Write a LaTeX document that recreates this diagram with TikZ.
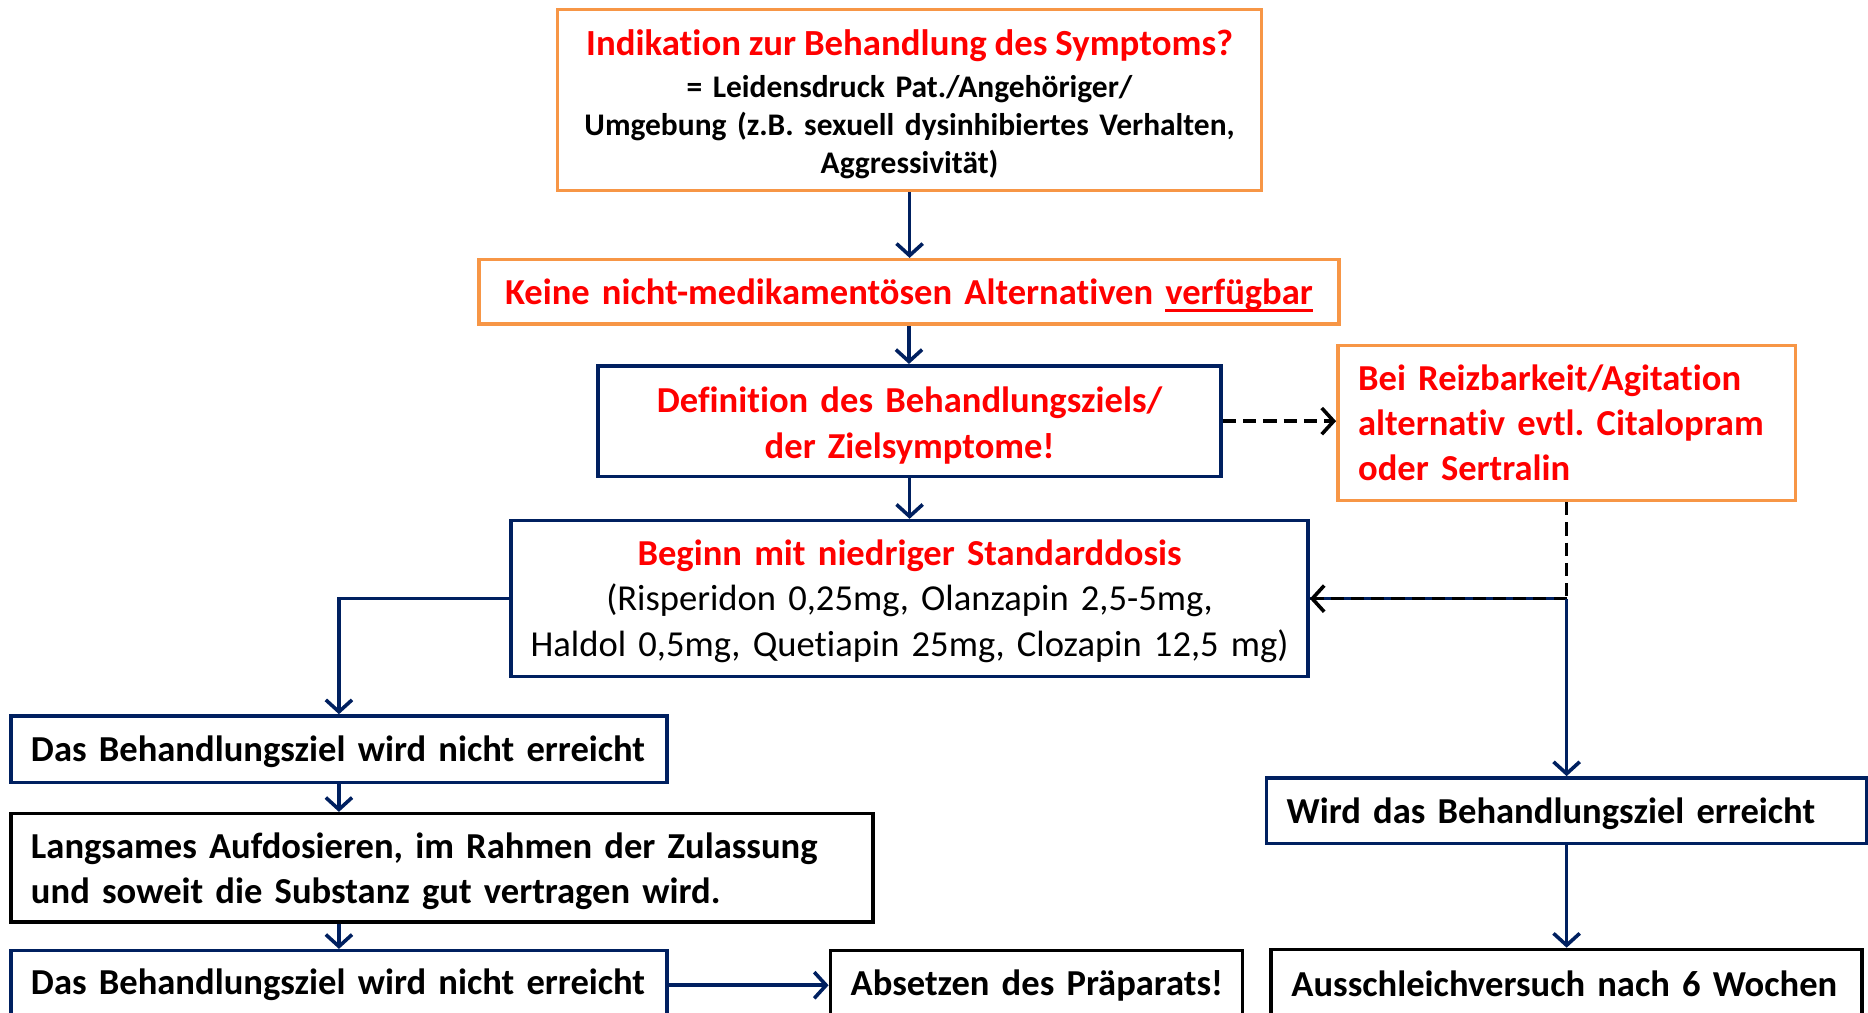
\documentclass[tikz,border=0pt]{standalone}
\usepackage{fontspec}
\setmainfont{Carlito}[Ligatures=CommonOff]
\usetikzlibrary{arrows.meta}
\definecolor{orng}{HTML}{F79646}
\definecolor{navy}{HTML}{002060}
\definecolor{rd}{HTML}{FF0000}
\newcommand{\bigtxt}{\fontsize{30.7}{38}\selectfont\spaceskip=0.2em plus 0.05em minus 0.03em\relax}
\newcommand{\midtxt}{\fontsize{26.4}{32}\selectfont\spaceskip=0.2em plus 0.05em minus 0.03em\relax}
\newcommand{\ttltxt}{\fontsize{30.9}{32}\selectfont\spaceskip=0.2em plus 0.05em minus 0.03em\relax}
\newcommand{\tup}[1]{\rule{0pt}{#1pt}}
\newsavebox{\ulbox}
\newcommand{\thickul}[1]{\sbox{\ulbox}{#1}\rlap{\usebox{\ulbox}}\raisebox{-6pt}{\rule{\wd\ulbox}{2.5pt}}}
\frenchspacing
\tikzset{
  box/.style={draw, line width=3pt, fill=white, inner ysep=0pt, font=\bigtxt\bfseries},
  obox/.style={box, draw=orng},
  nbox/.style={box, draw=navy},
  kbox/.style={box, draw=black},
  arr/.style={line width=3pt, draw=navy, -{Straight Barb[length=10pt,width=22pt]}},
  darr/.style={line width=3pt, draw=black, dash pattern=on 11pt off 6pt, -{Straight Barb[length=10pt,width=22pt]}},
  dline/.style={line width=3pt, draw=black, dash pattern=on 11pt off 6pt},
}
\begin{document}
\begin{tikzpicture}[x=1pt,y=-1pt]
\useasboundingbox (0,0) rectangle (1568,850);
\clip (0,0) rectangle (1568,850);
\fill[white] (0,0) rectangle (1568,850);

\node[obox, minimum width=591, minimum height=152, text width=571, inner xsep=10, align=center, font=\midtxt\bfseries] (A) at (763.5,84)
 {\tup{29}\textcolor{rd}{\ttltxt Indikation zur Behandlung des Symptoms?}\\[3pt]
  = Leidensdruck Pat./Angehöriger/\\ Umgebung (z.B. sexuell dysinhibiertes Verhalten,\\ Aggressivität)};

\node[obox, minimum width=722, minimum height=54, text width=702, inner xsep=10, align=center, text=rd] (B) at (763,245)
 {\tup{28}Keine nicht-medikamentösen Alternativen \thickul{verfügbar}};

\node[nbox, minimum width=523, minimum height=93, text width=503, inner xsep=10, align=center, text=rd] (C) at (763.5,353.5)
 {\tup{29}Definition des Behandlungsziels/\\ der Zielsymptome!};

\node[obox, minimum width=384, minimum height=130, text width=350, inner xsep=17, align=left, text=rd] (D) at (1315,355)
 {Bei Reizbarkeit/Agitation\\ alternativ evtl. Citalopram\\ oder Sertralin};

\node[nbox, minimum width=669, minimum height=131, text width=649, inner xsep=10, align=center] (E) at (763.5,502.5)
 {\tup{26}{\color{rd}Beginn mit niedriger Standarddosis}\\ \mdseries(Risperidon 0,25mg, Olanzapin 2,5-5mg,\\ \mdseries Haldol 0,5mg, Quetiapin 25mg, Clozapin 12,5 mg)};

\node[nbox, minimum width=504, minimum height=55, text width=470, inner xsep=17, align=left] (F) at (1315,680.5)
 {\tup{26}\mbox{Wird das Behandlungsziel erreicht}};

\node[kbox, minimum width=496, minimum height=58, text width=462, inner xsep=17, align=left] (G) at (1315,826)
 {\mbox{Ausschleichversuch nach 6 Wochen}};

\node[nbox, minimum width=551, minimum height=56, text width=517, inner xsep=17, align=left] (H) at (284.5,629)
 {\tup{26}\mbox{Das Behandlungsziel wird nicht erreicht}};

\node[kbox, minimum width=724, minimum height=91, text width=690, inner xsep=17, align=left] (I) at (371,728.5)
 {\tup{27}\mbox{Langsames Aufdosieren, im Rahmen der Zulassung}\\ \mbox{und soweit die Substanz gut vertragen wird.}};

\node[nbox, minimum width=551, minimum height=58, text width=517, inner xsep=17, align=left] (J) at (284.5,827)
 {\mbox{Das Behandlungsziel wird nicht erreicht}};

\node[kbox, minimum width=346, minimum height=58, text width=312, inner xsep=17, align=left] (K) at (870,827)
 {\mbox{Absetzen des Präparats!}};

\coordinate (M) at (1315,502.5);

\draw[arr] (A.south) -- (A.south |- B.north);
\draw[arr] (B.south) -- (B.south |- C.north);
\draw[arr] (C.south) -- (C.south |- E.north);
\draw[darr] (C.east) -- (C.east -| D.west);
\draw[dline] (D.south) -- (M);
\draw[line width=3pt, draw=navy] (M) -- (E.east);
\draw[darr] (M) -- (E.east);
\draw[arr] (M) -- (F.north);
\draw[arr] (F.south) -- (G.north);
\draw[arr] (E.west) -| (H.north);
\draw[arr] (H.south) -- (H.south |- I.north);
\draw[arr] (H.south |- I.south) -- (J.north);
\draw[arr] (J.east) -- (K.west);
\end{tikzpicture}
\end{document}
